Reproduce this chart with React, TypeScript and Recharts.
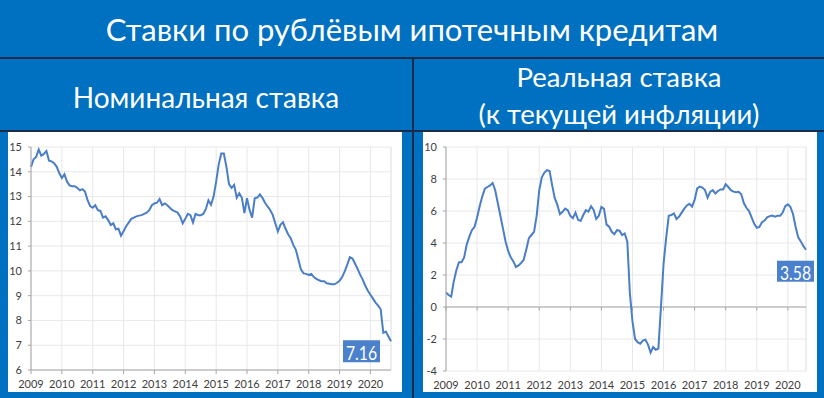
import React from 'react';
import { LineChart, Line, XAxis, YAxis, CartesianGrid, ReferenceLine, LabelList } from 'recharts';

const TITLE = 'Ставки по рублёвым ипотечным кредитам';
const LEFT_HEADER = 'Номинальная ставка';
const RIGHT_HEADER_1 = 'Реальная ставка';
const RIGHT_HEADER_2 = '(к текущей инфляции)';

const START_YEAR = 2009;
const YEAR_TICKS = [2009, 2010, 2011, 2012, 2013, 2014, 2015, 2016, 2017, 2018, 2019, 2020];
const NOMINAL_TICKS = [6, 7, 8, 9, 10, 11, 12, 13, 14, 15];
const REAL_TICKS = [-4, -2, 0, 2, 4, 6, 8, 10];

// monthly, Jan 2009 .. Sep 2020
const nominal = [
  14.2, 14.5, 14.6, 14.9, 14.65, 14.72, 14.84, 14.45, 14.42, 14.35, 14.2, 13.95,
  13.75, 13.9, 13.6, 13.45, 13.42, 13.42, 13.35, 13.25, 13.3, 13.2, 12.85, 12.62,
  12.55, 12.65, 12.45, 12.42, 12.15, 12.2, 12.05, 11.85, 11.92, 11.68, 11.7, 11.42,
  11.6, 11.8, 11.95, 12.1, 12.15, 12.2, 12.23, 12.25, 12.3, 12.35, 12.45, 12.65,
  12.72, 12.75, 12.9, 12.65, 12.72, 12.65, 12.55, 12.45, 12.4, 12.35, 12.2, 11.92,
  12.1, 12.3, 12.25, 11.95, 12.3, 12.25, 12.25, 12.3, 12.5, 12.85, 12.67, 13.0,
  13.6, 14.3, 14.74, 14.74, 14.2, 13.5, 13.35, 13.47, 12.95, 13.13, 12.95, 12.33,
  12.93, 12.46, 12.15, 12.93, 12.96, 13.09, 12.95, 12.75, 12.6, 12.46, 12.26, 11.92,
  11.59, 11.86, 11.96, 11.7, 11.48, 11.32, 11.05, 10.85, 10.45, 10.05, 9.9, 9.88,
  9.84, 9.88, 9.75, 9.68, 9.62, 9.58, 9.58, 9.5, 9.48, 9.46, 9.46, 9.52,
  9.6, 9.75, 9.98, 10.25, 10.55, 10.5, 10.3, 10.08, 9.85, 9.65, 9.4, 9.2,
  9.04, 8.88, 8.72, 8.6, 8.45, 7.5, 7.55, 7.35, 7.16,
];

// monthly, Jan 2009 .. Aug 2020
const real = [
  0.9, 0.75, 0.65, 1.6, 2.3, 2.8, 2.8, 3.1, 3.9, 4.4, 4.8, 5.0,
  5.6, 6.3, 6.9, 7.4, 7.5, 7.6, 7.75, 7.3, 6.5, 5.7, 4.9, 4.1,
  3.5, 3.1, 2.85, 2.5, 2.6, 2.75, 2.95, 3.6, 4.3, 4.5, 4.7, 5.7,
  7.3, 8.1, 8.4, 8.55, 8.5, 7.6, 6.8, 6.38, 5.8, 5.95, 6.15, 6.05,
  5.7, 5.55, 5.9, 5.45, 5.38, 5.75, 6.05, 5.96, 6.3, 6.06, 5.5, 5.7,
  6.25, 6.13, 5.15, 5.02, 4.7, 4.55, 4.8, 4.77, 4.5, 4.6, 4.1, 0.85,
  -0.9, -2.0, -2.2, -2.3, -2.1, -2.05, -2.35, -2.85, -2.5, -2.67, -2.6, 0.0,
  2.7, 4.3, 5.7, 5.75, 5.85, 5.5, 5.65, 5.9, 6.15, 6.35, 6.45, 6.27,
  6.69, 7.42, 7.52, 7.46, 7.31, 6.83, 7.19, 7.31, 7.1, 7.25, 7.35, 7.35,
  7.67, 7.5, 7.3, 7.21, 7.17, 7.2, 7.05, 6.5, 6.2, 6.0, 5.6, 5.2,
  4.95, 5.0, 5.3, 5.4, 5.6, 5.68, 5.71, 5.65, 5.7, 5.7, 5.9, 6.3,
  6.42, 6.25, 5.8, 5.0, 4.35, 4.1, 3.8, 3.58,
];

const nominalData = nominal.map((v, i) => ({ t: START_YEAR + i / 12, v }));
const realData = real.map((v, i) => ({ t: START_YEAR + i / 12, v }));

const BLUE_BG = '#0070C0';
const DARK = '#1B2B4B';
const LINE = '#4A7EC6';
const BOX = '#4A80CC';
const GRID = '#e8e8e8';
const AXIS = '#a6a6a6';
const TXT = '#404040';
const FONT = 'Lato, "Open Sans", sans-serif';

function endLabel(lastIndex: number, bx: number, by: number, bw: number, bh: number) {
  return (props: any) => {
    const { x, y, index, value } = props;
    if (index !== lastIndex) return null;
    return (
      <g>
        <rect x={x + bx} y={y + by} width={bw} height={bh} fill={BOX} />
        <text
          x={x + bx + bw / 2}
          y={y + by + bh / 2 + 1}
          textAnchor="middle"
          dominantBaseline="central"
          fill="#ffffff"
          fontSize={20}
          fontFamily={FONT}
          textLength={bw - 6}
          lengthAdjust="spacingAndGlyphs"
        >
          {Number(value).toFixed(2)}
        </text>
      </g>
    );
  };
}

const tickStyle = { fontSize: 11, fill: TXT, fontFamily: FONT };

function NominalChart() {
  const maxT = START_YEAR + (nominal.length - 1) / 12;
  return (
    <LineChart width={394} height={260} data={nominalData} margin={{ top: 15, right: 11, left: 0, bottom: 0 }}>
      <CartesianGrid stroke={GRID} />
      <XAxis
        dataKey="t"
        type="number"
        domain={[START_YEAR, maxT]}
        ticks={YEAR_TICKS}
        height={22}
        stroke={AXIS}
        tickSize={4}
        tickMargin={6}
        tick={tickStyle}
        interval={0}
      />
      <YAxis
        domain={[6, 15]}
        ticks={NOMINAL_TICKS}
        width={23}
        stroke={AXIS}
        tickSize={3}
        tickMargin={6}
        tick={tickStyle}
        interval={0}
      />
      <ReferenceLine x={maxT} stroke={GRID} />
      <Line type="linear" dataKey="v" stroke={LINE} strokeWidth={2} dot={false} isAnimationActive={false}>
        <LabelList dataKey="v" content={endLabel(nominal.length - 1, -48, -1, 37, 22)} />
      </Line>
    </LineChart>
  );
}

function RealChart() {
  const maxT = START_YEAR + (real.length - 1) / 12;
  return (
    <LineChart width={394} height={260} data={realData} margin={{ top: 15, right: 11, left: 0, bottom: 0 }}>
      <CartesianGrid stroke={GRID} />
      <XAxis
        dataKey="t"
        type="number"
        domain={[START_YEAR, maxT]}
        ticks={YEAR_TICKS}
        height={21}
        axisLine={false}
        tickLine={false}
        tickSize={4}
        tickMargin={6}
        tick={tickStyle}
        interval={0}
      />
      <YAxis
        domain={[-4, 10]}
        ticks={REAL_TICKS}
        width={23}
        stroke={AXIS}
        tickSize={3}
        tickMargin={6}
        tick={tickStyle}
        interval={0}
      />
      <ReferenceLine x={maxT} stroke={GRID} />
      <ReferenceLine y={0} stroke={AXIS} />
      {YEAR_TICKS.map((yr) => (
        <ReferenceLine key={yr} segment={[{ x: yr, y: 0 }, { x: yr, y: -0.22 }]} stroke={AXIS} />
      ))}
      <Line type="linear" dataKey="v" stroke={LINE} strokeWidth={2} dot={false} isAnimationActive={false}>
        <LabelList dataKey="v" content={endLabel(real.length - 1, -29, 11, 37, 21)} />
      </Line>
    </LineChart>
  );
}

export default function App() {
  const abs = (s: React.CSSProperties): React.CSSProperties => ({ position: 'absolute', ...s });
  const header: React.CSSProperties = {
    color: '#ffffff',
    fontFamily: FONT,
    textAlign: 'center',
    whiteSpace: 'nowrap',
    lineHeight: 1,
  };
  return (
    <div style={abs({ left: 0, top: 0, width: 824, height: 398, background: BLUE_BG, overflow: 'hidden' })}>
      <div style={abs({ ...header, left: 0, width: 824, top: 14, fontSize: 31 })}>{TITLE}</div>
      <div style={abs({ left: 0, top: 57, width: 824, height: 2, background: DARK })} />
      <div style={abs({ left: 412, top: 58, width: 2, height: 340, background: DARK })} />
      <div style={abs({ ...header, left: 0, width: 412, top: 83, fontSize: 28 })}>{LEFT_HEADER}</div>
      <div style={abs({ ...header, left: 414, width: 410, top: 63, fontSize: 27.5 })}>{RIGHT_HEADER_1}</div>
      <div style={abs({ ...header, left: 414, width: 410, top: 100, fontSize: 27.5 })}>{RIGHT_HEADER_2}</div>
      <div style={abs({ left: 0, top: 130, width: 824, height: 2, background: DARK })} />
      <div style={abs({ left: 8, top: 132, width: 394, height: 260, background: '#ffffff' })}>
        <NominalChart />
      </div>
      <div style={abs({ left: 423, top: 132, width: 394, height: 260, background: '#ffffff' })}>
        <RealChart />
      </div>
    </div>
  );
}
